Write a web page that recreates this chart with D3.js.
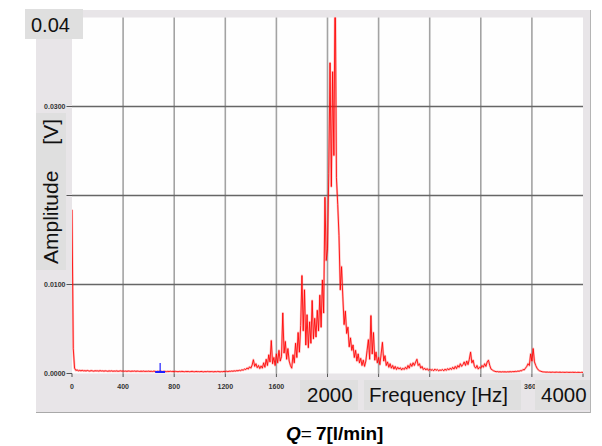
<!DOCTYPE html>
<html>
<head>
<meta charset="utf-8">
<script src="https://cdn.jsdelivr.net/npm/d3@7"></script>
<style>
  html, body { margin: 0; padding: 0; background: #ffffff; }
  svg { display: block; }
</style>
</head>
<body>
<svg id="chart" width="602" height="446"></svg>
<script>
// Spectrum amplitude in mV, one value per 10 Hz bin from 0 Hz to 4000 Hz.
const amplitudeMv = [
  18.4, 2.8, 0.6, 0.35, 0.4, 0.3, 0.35, 0.3, 0.35, 0.3,
  0.32, 0.28, 0.34, 0.3, 0.27, 0.33, 0.3, 0.26, 0.31, 0.29,
  0.3, 0.27, 0.32, 0.28, 0.3, 0.26, 0.3, 0.28, 0.25, 0.29,
  0.27, 0.3, 0.25, 0.28, 0.26, 0.29, 0.25, 0.27, 0.3, 0.26,
  0.28, 0.25, 0.27, 0.24, 0.28, 0.26, 0.24, 0.27, 0.25, 0.28,
  0.24, 0.27, 0.25, 0.23, 0.26, 0.24, 0.27, 0.23, 0.25, 0.24,
  0.26, 0.23, 0.25, 0.22, 0.26, 0.24, 0.22, 0.25, 0.23, 0.26,
  0.24, 0.22, 0.25, 0.23, 0.21, 0.24, 0.22, 0.25, 0.22, 0.24,
  0.21, 0.24, 0.22, 0.2, 0.23, 0.21, 0.24, 0.22, 0.2, 0.23,
  0.21, 0.23, 0.2, 0.22, 0.24, 0.21, 0.2, 0.23, 0.21, 0.22,
  0.2, 0.23, 0.21, 0.19, 0.22, 0.2, 0.23, 0.21, 0.2, 0.22,
  0.21, 0.19, 0.22, 0.2, 0.23, 0.21, 0.19, 0.22, 0.2, 0.24,
  0.22, 0.25, 0.21, 0.26, 0.24, 0.28, 0.25, 0.3, 0.27, 0.33,
  0.3, 0.36, 0.32, 0.42, 0.37, 0.5, 0.44, 0.62, 0.5, 0.75,
  0.6, 0.95, 1.55, 0.8, 1.1, 0.65, 0.9, 0.55, 0.85, 0.6,
  1.2, 0.7, 1.6, 0.9, 2.1, 1.3, 3.7, 1.1, 1.8, 0.9,
  2.2, 1.2, 2.6, 1.4, 1.9, 6.8, 2.3, 3.6, 1.6, 2.8,
  1.4, 0.9, 0.6, 2.1, 1.2, 3.4, 1.8, 4.6, 2.4, 5.4,
  11.0, 4.8, 9.4, 3.2, 6.6, 2.9, 5.8, 3.4, 8.2, 3.9,
  6.2, 4.1, 7.1, 4.8, 8.8, 5.2, 10.5, 6.8, 19.8, 12.7,
  14.0, 22.5, 34.9, 21.0, 33.9, 24.5, 45.0, 22.0, 19.0, 15.5,
  9.4, 12.0, 8.6, 5.5, 7.0, 4.5, 5.2, 3.0, 4.0, 2.6,
  3.2, 1.8, 2.6, 1.4, 2.2, 1.2, 1.7, 0.9, 1.5, 0.8,
  1.4, 2.6, 3.8, 1.6, 6.5, 2.2, 4.6, 1.5, 2.4, 1.2,
  1.8, 1.0, 2.2, 3.5, 1.4, 2.0, 0.9, 1.3, 0.7, 1.1,
  0.6, 0.9, 0.5, 0.8, 0.45, 0.7, 0.5, 0.65, 0.4, 0.6,
  0.45, 0.7, 0.5, 0.9, 0.6, 1.1, 0.8, 1.2, 0.9, 1.3,
  1.6, 0.9, 1.1, 0.6, 0.8, 0.45, 0.6, 0.4, 0.55, 0.35,
  0.5, 0.35, 0.45, 0.3, 0.5, 0.35, 0.45, 0.3, 0.4, 0.35,
  0.45, 0.3, 0.5, 0.35, 0.55, 0.4, 0.6, 0.45, 0.7, 0.5,
  0.8, 0.55, 0.9, 0.7, 1.1, 0.8, 1.0, 1.3, 0.9, 1.4,
  1.0, 1.6, 2.4, 1.2, 1.5, 0.8, 0.6, 0.9, 0.5, 0.7,
  0.6, 0.9, 0.7, 1.1, 0.8, 1.3, 1.5, 0.9, 0.5, 0.4,
  0.3, 0.25, 0.2, 0.22, 0.18, 0.2, 0.17, 0.2, 0.18, 0.19,
  0.17, 0.2, 0.18, 0.21, 0.19, 0.22, 0.2, 0.24, 0.22, 0.27,
  0.25, 0.32, 0.3, 0.45, 0.4, 0.6, 0.8, 1.1, 0.9, 2.2,
  1.4, 2.8, 1.3, 0.9, 0.6, 0.4, 0.3, 0.25, 0.2, 0.18,
  0.17, 0.15, 0.16, 0.14, 0.15, 0.13, 0.15, 0.14, 0.13, 0.15,
  0.14, 0.13, 0.15, 0.12, 0.14, 0.13, 0.12, 0.14, 0.13, 0.12,
  0.13, 0.12, 0.14, 0.12, 0.13, 0.11, 0.13, 0.12, 0.11, 0.13,
  0.12
];
const freqStepHz = 10;

// Axis ticks
const xTicksHz = [0, 400, 800, 1200, 1600, 2000, 2400, 2800, 3200, 3600, 4000];
const yTicksMv = [0, 10, 20, 30];
const yMaxMv = 40;

// Cursor marker position
const cursorHz = 690;

// Overlaid captions
const yTopLabel = "0.04";
const yTitleParts = ["Amplitude", "[V]"];
const xBoxLabels = ["2000", "Frequency [Hz]", "4000"];
const flowSymbol = "Q";
const flowValue = "7[l/min]";

const svg = d3.select("#chart");

const plot = { left: 72, right: 583, top: 17.5, bottom: 373.5 };

const x = d3.scaleLinear().domain([0, 4000]).range([plot.left, plot.right]);
const y = d3.scaleLinear().domain([0, yMaxMv]).range([plot.bottom, plot.top]);

// Caption boxes along the frequency axis (pixel extents and text start)
const xBoxes = [
  { x0: 300, x1: 358, tx: 307 },
  { x0: 364, x1: 521, tx: 369 },
  { x0: 535, x1: 590, tx: 541 }
];

// Gray instrument panel
svg.append("rect")
  .attr("x", 36).attr("y", 10).attr("width", 554).attr("height", 402)
  .attr("fill", "#e8e5e8");
svg.append("line")
  .attr("x1", 36).attr("x2", 591).attr("y1", 412.5).attr("y2", 412.5)
  .attr("stroke", "#a9a9a9").attr("stroke-width", 1);
svg.append("line")
  .attr("x1", 590.5).attr("x2", 590.5).attr("y1", 10).attr("y2", 413)
  .attr("stroke", "#b5b5b5").attr("stroke-width", 1);

// White plotting area
svg.append("rect")
  .attr("x", plot.left).attr("y", plot.top)
  .attr("width", plot.right - plot.left).attr("height", plot.bottom - plot.top)
  .attr("fill", "#fefefe");

// Grid
svg.append("g").selectAll("line")
  .data(xTicksHz.slice(1, -1))
  .join("line")
  .attr("x1", d => x(d)).attr("x2", d => x(d))
  .attr("y1", plot.top).attr("y2", plot.bottom)
  .attr("stroke", "#a3a3a3").attr("stroke-width", 1.6);

svg.append("g").selectAll("line")
  .data(yTicksMv.slice(1))
  .join("line")
  .attr("x1", plot.left).attr("x2", plot.right)
  .attr("y1", d => y(d)).attr("y2", d => y(d))
  .attr("stroke", "#666666").attr("stroke-width", 1.6);

// Axis ticks and small labels
const smallFont = "'Liberation Sans', Arial, sans-serif";
const xAxis = svg.append("g");
xAxis.selectAll("line")
  .data(xTicksHz)
  .join("line")
  .attr("x1", d => x(d)).attr("x2", d => x(d))
  .attr("y1", plot.bottom).attr("y2", plot.bottom + 3.5)
  .attr("stroke", "#555").attr("stroke-width", 1);

// small tick labels, except those sitting entirely beneath a caption box
const underBox = d => xBoxes.some(b => x(d) >= b.x0 && x(d) <= b.x1);
xAxis.selectAll("text")
  .data(xTicksHz.filter(d => !underBox(d)))
  .join("text")
  .attr("x", d => x(d)).attr("y", 389)
  .attr("text-anchor", "middle")
  .attr("font-family", smallFont).attr("font-weight", "bold")
  .attr("font-size", 7).attr("fill", "#333")
  .text(d => d3.format("d")(d));

const yAxis = svg.append("g");
yAxis.selectAll("line")
  .data(yTicksMv)
  .join("line")
  .attr("x1", plot.left - 5.5).attr("x2", plot.left)
  .attr("y1", d => y(d)).attr("y2", d => y(d))
  .attr("stroke", "#555").attr("stroke-width", 1);
yAxis.selectAll("text")
  .data(yTicksMv)
  .join("text")
  .attr("x", plot.left - 6.5).attr("y", d => y(d) + 2.5)
  .attr("text-anchor", "end")
  .attr("font-family", smallFont).attr("font-weight", "bold")
  .attr("font-size", 7).attr("fill", "#333")
  .text(d => (d / 1000).toFixed(4));

// Spectrum trace
svg.append("clipPath").attr("id", "plotClip")
  .append("rect")
  .attr("x", plot.left).attr("y", plot.top)
  .attr("width", plot.right - plot.left).attr("height", plot.bottom - plot.top);

const line = d3.line()
  .x((d, i) => x(i * freqStepHz))
  .y(d => y(d));

const traces = svg.append("g").attr("clip-path", "url(#plotClip)");
traces.append("path")
  .datum(amplitudeMv)
  .attr("d", line)
  .attr("fill", "none")
  .attr("stroke", "#ff4040").attr("stroke-width", 2.2)
  .attr("stroke-opacity", 0.35)
  .attr("stroke-linejoin", "round");
traces.append("path")
  .datum(amplitudeMv)
  .attr("d", line)
  .attr("fill", "none")
  .attr("stroke", "#ff0000").attr("stroke-width", 1)
  .attr("stroke-opacity", 0.85)
  .attr("stroke-linejoin", "round");

// Cursor marker
const cx = x(cursorHz);
svg.append("line")
  .attr("x1", cx - 5).attr("x2", cx + 5)
  .attr("y1", plot.bottom - 1.5).attr("y2", plot.bottom - 1.5)
  .attr("stroke", "#1f1fff").attr("stroke-width", 2);
svg.append("line")
  .attr("x1", cx).attr("x2", cx)
  .attr("y1", plot.bottom - 10.5).attr("y2", plot.bottom - 2)
  .attr("stroke", "#1f1fff").attr("stroke-width", 1.2);

// Caption boxes laid over the panel
const bigFont = "'Liberation Sans', Arial, sans-serif";
const boxFill = "#dfdfdf";

// top value of the amplitude axis
svg.append("rect").attr("x", 25).attr("y", 9).attr("width", 58).attr("height", 30).attr("fill", boxFill);
svg.append("text")
  .attr("x", 31).attr("y", 32)
  .attr("font-family", bigFont).attr("font-size", 20).attr("fill", "#111")
  .text(yTopLabel);

// vertical axis title
svg.append("rect").attr("x", 36).attr("y", 113).attr("width", 30).attr("height", 157).attr("fill", boxFill);
svg.append("text")
  .attr("transform", "translate(58,264) rotate(-90)")
  .attr("font-family", bigFont).attr("font-size", 21).attr("fill", "#111")
  .text(yTitleParts[0]);
svg.append("text")
  .attr("transform", "translate(58,119) rotate(-90)")
  .attr("text-anchor", "end")
  .attr("font-family", bigFont).attr("font-size", 21).attr("fill", "#111")
  .text(yTitleParts[1]);

// horizontal axis captions
xBoxes.forEach((b, i) => {
  svg.append("rect").attr("x", b.x0).attr("y", 380).attr("width", b.x1 - b.x0).attr("height", 30).attr("fill", boxFill);
  svg.append("text")
    .attr("x", b.tx).attr("y", 402)
    .attr("font-family", bigFont).attr("font-size", 20.5).attr("fill", "#111")
    .text(xBoxLabels[i]);
});

// Flow-rate caption
const cap = svg.append("text")
  .attr("x", 286).attr("y", 440)
  .attr("font-family", bigFont).attr("font-size", 19).attr("fill", "#000");
cap.append("tspan").attr("font-weight", "bold").attr("font-style", "italic").text(flowSymbol);
cap.append("tspan").attr("font-weight", "normal").text("=");
cap.append("tspan").attr("font-weight", "bold").attr("dx", 4).text(flowValue);
</script>
</body>
</html>
